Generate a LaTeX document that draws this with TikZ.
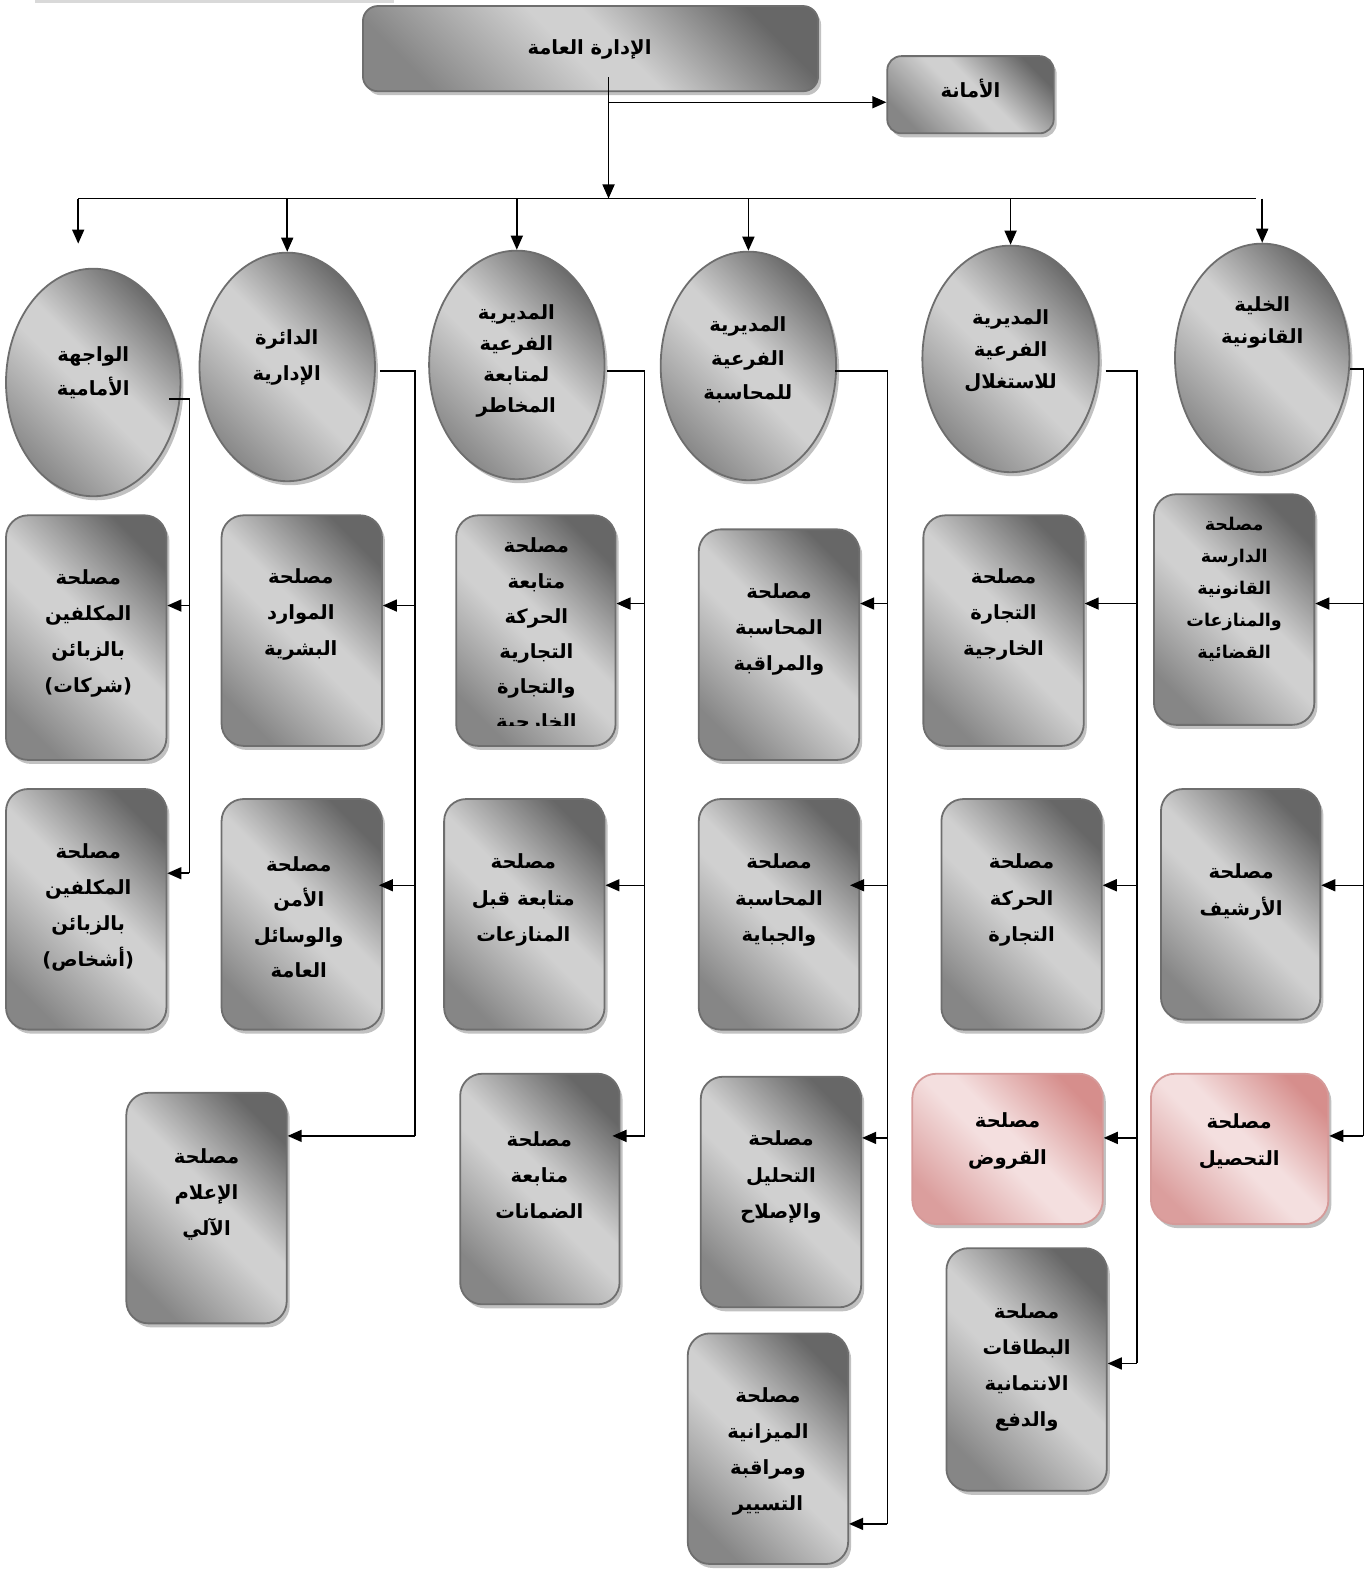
\documentclass[tikz,border=0pt]{standalone}
\usepackage{fontspec}
\newfontfamily\arabicfont[Script=Arabic]{DejaVu Sans}
\TeXXeTstate=1
\usetikzlibrary{shapes.geometric,shadows,arrows.meta}
\definecolor{gdark}{HTML}{676767}
\definecolor{glight}{HTML}{D0D0D0}
\definecolor{gmid}{HTML}{868686}
\definecolor{gborder}{HTML}{6E6E6E}
\definecolor{pdark}{HTML}{D68E8C}
\definecolor{plight}{HTML}{F4DFDF}
\definecolor{pmid}{HTML}{DB9E9D}
\definecolor{pborder}{HTML}{D59A99}
\pgfdeclareverticalshading{gshade}{100bp}{color(0bp)=(gmid); color(24bp)=(gmid); color(47bp)=(glight); color(54bp)=(glight); color(76bp)=(gdark); color(100bp)=(gdark)}
\pgfdeclareverticalshading{pshade}{100bp}{color(0bp)=(pmid); color(24bp)=(pmid); color(47bp)=(plight); color(54bp)=(plight); color(76bp)=(pdark); color(100bp)=(pdark)}
\newcommand\AR[1]{\beginR #1\endR}
\begin{document}
\begin{tikzpicture}[x=1pt,y=-1pt,
  shadowed/.style={drop shadow={shadow xshift=3pt,shadow yshift=-4pt,opacity=0.35,fill=black!70}},
  gbox/.style={rectangle, rounded corners=22pt, draw=gborder, line width=1.8pt,
     shading=gshade, shading angle=-45, inner sep=0pt, shadowed},
  pbox/.style={rectangle, rounded corners=24pt, draw=pborder, line width=1.8pt,
     shading=pshade, shading angle=-45, inner sep=0pt, shadowed},
  gell/.style={ellipse, draw=gborder, line width=1.8pt,
     shading=gshade, shading angle=-45, inner sep=0pt, shadowed},
  txt/.style={align=center, inner sep=0pt, font=\arabicfont\bfseries\fontsize{19.5}{36}\selectfont},
  lsp/.style={font=\arabicfont\bfseries\fontsize{19.5}{#1}\selectfont},
  ln/.style={line width=1.5pt},
  arr/.style={line width=1.5pt, -{Triangle[length=14pt,width=12pt]}}
]
\useasboundingbox (0,0) rectangle (1363,1568);
\fill[black!15] (35,0) rectangle (393,2.5);

% top level
\node[gbox, rounded corners=15pt, minimum width=454, minimum height=85] (top) at (589,48.5) {};
\node[txt] (ttop) at (588,49) {\AR{الإدارة العامة}};
\node[gbox, rounded corners=14pt, minimum width=166, minimum height=77] (sec) at (968,94.5) {};
\node[txt] (tsec) at (968,88) {\AR{الأمانة}};

% ellipses
\node[gell, minimum width=174, minimum height=227] (e1) at (93,381.5) {};
\node[gell, minimum width=175, minimum height=228] (e2) at (286.5,366) {};
\node[gell, minimum width=175, minimum height=228] (e3) at (515.5,364) {};
\node[gell, minimum width=175, minimum height=228] (e4) at (746.5,365) {};
\node[gell, minimum width=176, minimum height=226] (e5) at (1008,358) {};
\node[gell, minimum width=174, minimum height=228] (e6) at (1259,357) {};
\node[txt, lsp=34] (te1) at (93,372) {\AR{الواجهة}\\\AR{الأمامية}};
\node[txt, lsp=36] (te2) at (286,357) {\AR{الدائرة}\\\AR{الإدارية}};
\node[txt, lsp=31] (te3) at (515,360) {\AR{المديرية}\\\AR{الفرعية}\\\AR{لمتابعة}\\\AR{المخاطر}};
\node[txt, lsp=34] (te4) at (746,359) {\AR{المديرية}\\\AR{الفرعية}\\\AR{للمحاسبة}};
\node[txt, lsp=32] (te5) at (1008,350) {\AR{المديرية}\\\AR{الفرعية}\\\AR{للاستغلال}};
\node[txt, lsp=32] (te6) at (1259,322) {\AR{الخلية}\\\AR{القانونية}};

% service boxes
\node[gbox, minimum width=160, minimum height=244] (b11) at (86,636) {};
\node[gbox, minimum width=160, minimum height=240] (b12) at (86,907) {};
\node[gbox, minimum width=160, minimum height=230] (b21) at (301,629) {};
\node[gbox, minimum width=160, minimum height=230] (b22) at (301,912) {};
\node[gbox, minimum width=160, minimum height=230] (b23) at (206,1205) {};
\node[gbox, minimum width=159, minimum height=230] (b31) at (534.5,629) {};
\node[gbox, minimum width=160, minimum height=230] (b32) at (523,912) {};
\node[gbox, minimum width=159, minimum height=230] (b33) at (538.5,1186) {};
\node[gbox, minimum width=160, minimum height=230] (b41) at (777,643) {};
\node[gbox, minimum width=160, minimum height=230] (b42) at (777,912) {};
\node[gbox, minimum width=160, minimum height=230] (b43) at (779,1189) {};
\node[gbox, minimum width=160, minimum height=230] (b44) at (766,1445) {};
\node[gbox, minimum width=160, minimum height=230] (b51) at (1001,629) {};
\node[gbox, minimum width=160, minimum height=230] (b52) at (1019,912) {};
\node[pbox, minimum width=190, minimum height=150] (b53) at (1005,1146) {};
\node[gbox, minimum width=160, minimum height=242] (b54) at (1024,1366) {};
\node[gbox, minimum width=160, minimum height=230] (b61) at (1231,608) {};
\node[gbox, minimum width=159, minimum height=230] (b62) at (1237.5,902) {};
\node[pbox, minimum width=177, minimum height=150] (b63) at (1236.5,1146) {};

% texts
\node[txt] (t11) at (88,632) {\AR{مصلحة}\\\AR{المكلفين}\\\AR{بالزبائن}\\\AR{(شركات)}};
\node[txt] (t12) at (88,905) {\AR{مصلحة}\\\AR{المكلفين}\\\AR{بالزبائن}\\\AR{(أشخاص)}};
\node[txt] (t21) at (300,613) {\AR{مصلحة}\\\AR{الموارد}\\\AR{البشرية}};
\node[txt, lsp=35.5] (t22) at (298,915) {\AR{مصلحة}\\\AR{الأمن}\\\AR{والوسائل}\\\AR{العامة}};
\node[txt] (t23) at (206,1191) {\AR{مصلحة}\\\AR{الإعلام}\\\AR{الآلي}};
\begin{scope}
\clip (456,516) rectangle (613,724);
\node[txt, lsp=35] (t31) at (535,634) {\AR{مصلحة}\\\AR{متابعة}\\\AR{الحركة}\\\AR{التجارية}\\\AR{والتجارة}\\\AR{الخارجية}};
\end{scope}
\node[txt, lsp=36.5] (t32) at (522,898) {\AR{مصلحة}\\\AR{متابعة قبل}\\\AR{المنازعات}};
\node[txt] (t33) at (538,1172) {\AR{مصلحة}\\\AR{متابعة}\\\AR{الضمانات}};
\node[txt] (t41) at (777,628) {\AR{مصلحة}\\\AR{المحاسبة}\\\AR{والمراقبة}};
\node[txt, lsp=36.5] (t42) at (777,898) {\AR{مصلحة}\\\AR{المحاسبة}\\\AR{والجباية}};
\node[txt] (t43) at (779,1174) {\AR{مصلحة}\\\AR{التحليل}\\\AR{والإصلاح}};
\node[txt] (t44) at (766,1448) {\AR{مصلحة}\\\AR{الميزانية}\\\AR{ومراقبة}\\\AR{التسيير}};
\node[txt] (t51) at (1001,613) {\AR{مصلحة}\\\AR{التجارة}\\\AR{الخارجية}};
\node[txt, lsp=36.5] (t52) at (1019,898) {\AR{مصلحة}\\\AR{الحركة}\\\AR{التجارة}};
\node[txt, lsp=37] (t53) at (1005,1138) {\AR{مصلحة}\\\AR{القروض}};
\node[txt] (t54) at (1024,1364) {\AR{مصلحة}\\\AR{البطاقات}\\\AR{الانتمانية}\\\AR{والدفع}};
\node[txt, font=\arabicfont\bfseries\fontsize{17.5}{32}\selectfont] (t61) at (1231,588) {\AR{مصلحة}\\\AR{الدارسة}\\\AR{القانونية}\\\AR{والمنازعات}\\\AR{القضائية}};
\node[txt, lsp=37] (t62) at (1238,890) {\AR{مصلحة}\\\AR{الأرشيف}};
\node[txt, lsp=37] (t63) at (1236,1138) {\AR{مصلحة}\\\AR{التحصيل}};

% top connectors
\coordinate (m0) at (607,77);
\coordinate (m1) at (607,102);
\coordinate (m2) at (607,198);
\coordinate (busL) at (78,198);
\coordinate (busR) at (1253,198);
\coordinate (tip1) at (78,243);
\draw[ln] (m0) -- (m1);
\draw[arr] (m1) -- (sec.west |- m1);
\draw[arr] (m1) -- (m2);
\draw[ln] (busL) -- (busR);
\draw[arr] (busL) -- (tip1);
\draw[arr] (e2.north |- busL) -- (e2.north);
\draw[arr] (e3.north |- busL) -- (e3.north);
\draw[arr] (e4.north |- busL) -- (e4.north);
\draw[arr] (e5.north |- busL) -- (e5.north);
\draw[arr] (e6.north |- busL) -- (e6.north);

% branch 1
\coordinate (k1) at (189,398);
\coordinate (a11) at (189,604);
\coordinate (a12) at (189,871);
\draw[ln] ([xshift=-12pt]e1.east |- k1) -- (k1) -- (a12);
\draw[arr] (a11) -- (b11.east |- a11);
\draw[arr] (a12) -- (b12.east |- a12);

% branch 2
\coordinate (k2) at (414,370);
\coordinate (a21) at (414,604);
\coordinate (a22) at (414,883);
\coordinate (a23) at (414,1133);
\draw[ln] ([xshift=4pt]e2.east |- k2) -- (k2) -- (a23);
\draw[arr] (a21) -- (b21.east |- a21);
\draw[arr] (a22) -- ([xshift=-4pt]b22.east |- a22);
\draw[arr] (a23) -- (b23.east |- a23);

% branch 3
\coordinate (k3) at (643,370);
\coordinate (a31) at (643,602);
\coordinate (a32) at (643,883);
\coordinate (a33) at (643,1133);
\draw[ln] ([xshift=2pt]e3.east |- k3) -- (k3) -- (a33);
\draw[arr] (a31) -- (b31.east |- a31);
\draw[arr] (a32) -- (b32.east |- a32);
\draw[arr] (a33) -- ([xshift=-8pt]b33.east |- a33);

% branch 4
\coordinate (k4) at (885,370);
\coordinate (a41) at (885,602);
\coordinate (a42) at (885,883);
\coordinate (a43) at (885,1135);
\coordinate (a44) at (885,1520);
\draw[ln] ([xshift=-2pt]e4.east |- k4) -- (k4) -- (a44);
\draw[arr] (a41) -- (b41.east |- a41);
\draw[arr] (a42) -- ([xshift=-10pt]b42.east |- a42);
\draw[arr] (a43) -- (b43.east |- a43);
\draw[arr] (a44) -- (b44.east |- a44);

% branch 5
\coordinate (k5) at (1134,370);
\coordinate (a51) at (1134,602);
\coordinate (a52) at (1134,883);
\coordinate (a53) at (1134,1135);
\coordinate (a54) at (1134,1360);
\draw[ln] ([xshift=6pt]e5.east |- k5) -- (k5) -- (a54);
\draw[arr] (a51) -- (b51.east |- a51);
\draw[arr] (a52) -- (b52.east |- a52);
\draw[arr] (a53) -- (b53.east |- a53);
\draw[arr] (a54) -- (b54.east |- a54);

% branch 6
\coordinate (k6) at (1360,368);
\coordinate (a61) at (1360,602);
\coordinate (a62) at (1360,883);
\coordinate (a63) at (1360,1133);
\draw[ln] (e6.east |- k6) -- (k6) -- (a63);
\draw[arr] (a61) -- (b61.east |- a61);
\draw[arr] (a62) -- (b62.east |- a62);
\draw[arr] (a63) -- (b63.east |- a63);
\end{tikzpicture}
\end{document}
